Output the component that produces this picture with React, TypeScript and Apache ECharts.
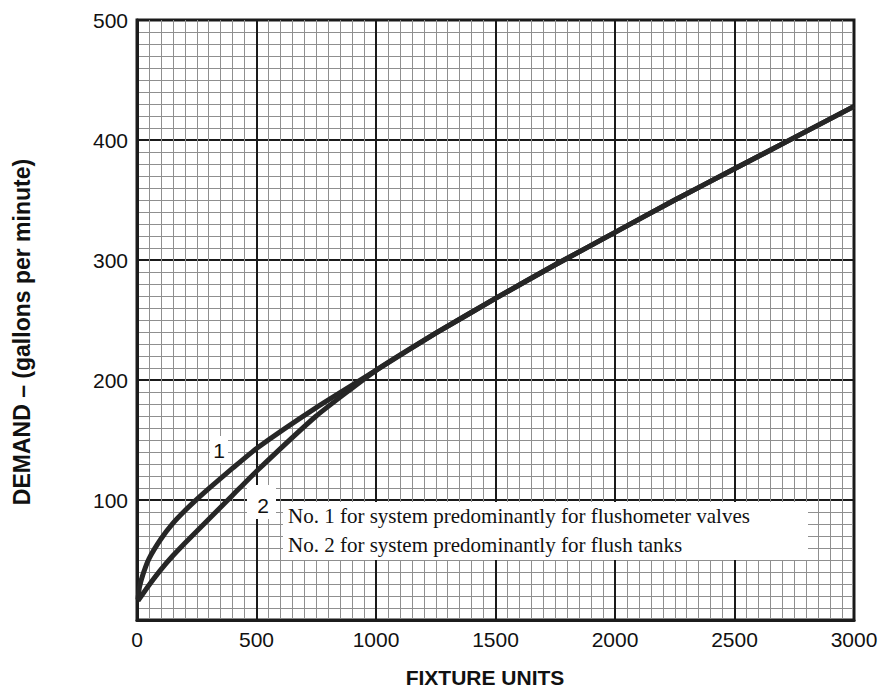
import React, { useEffect, useRef } from "react";
import * as echarts from "echarts";

// Curve 1: system predominantly for flushometer valves
const fixtureUnits1 = [4, 10, 25, 50, 100, 150, 200, 250, 300, 400, 500, 750, 1000, 1250, 1500, 1750, 2000, 2250, 2500, 2750, 3000];
const demand1 = [17, 27, 38, 51, 67.5, 80.5, 91, 100.5, 109.5, 126.5, 143, 177, 208, 239, 268, 296, 323, 350, 376, 402, 428];

// Curve 2: system predominantly for flush tanks
const fixtureUnits2 = [4, 50, 100, 150, 200, 250, 300, 400, 500, 750, 1000, 1250, 1500, 1750, 2000, 2250, 2500, 2750, 3000];
const demand2 = [16, 29, 42, 53.5, 64, 74, 84, 104, 124, 170, 208, 239, 268, 296, 323, 350, 376, 402, 428];

const xTickValues = [0, 500, 1000, 1500, 2000, 2500, 3000];
const xTickLabels = ["0", "500", "1000", "1500", "2000", "2500", "3000"];
const yTickValues = [0, 100, 200, 300, 400, 500];
const yTickLabels = ["", "100", "200", "300", "400", "500"];

const legendLines = [
  "No. 1 for system predominantly for flushometer valves",
  "No. 2 for system predominantly for flush tanks",
];
const curveLabels = ["1", "2"];

const SANS = "'Liberation Sans', Arial, Helvetica, sans-serif";
const SERIF = "'Liberation Serif', 'Times New Roman', serif";

export default function App() {
  const ref = useRef<HTMLDivElement>(null);

  useEffect(() => {
    if (!ref.current) return;
    const chart = echarts.init(ref.current, undefined, { renderer: "svg" });

    const pairs = (xs: number[], ys: number[]) => xs.map((x, i) => [x, ys[i]]);
    const lineColor = "#262626";

    const txt = (text: string, x: number, y: number, font: string, align = "center", extra: any = {}) => ({
      type: "text",
      x,
      y,
      z: 101,
      ...extra,
      style: {
        text,
        font,
        fill: "#111",
        textAlign: align,
        align,
        textVerticalAlign: "middle",
        verticalAlign: "middle",
      },
    });

    chart.setOption({
      animation: false,
      backgroundColor: "#ffffff",
      grid: {
        left: 137,
        right: 28,
        top: 20,
        bottom: 69,
        show: true,
        borderColor: "#1c1c1c",
        borderWidth: 3,
        backgroundColor: "#ffffff",
      },
      xAxis: {
        type: "value",
        min: 0,
        max: 3000,
        interval: 500,
        axisLine: { show: true, lineStyle: { color: "#1c1c1c", width: 3 } },
        axisTick: { show: false },
        axisLabel: {
          margin: 9,
          fontSize: 21,
          fontFamily: SANS,
          color: "#111",
          formatter: (v: number) => {
            const i = xTickValues.indexOf(v);
            return i >= 0 ? xTickLabels[i] : "";
          },
        },
        splitLine: { show: true, lineStyle: { color: "#1a1a1a", width: 2 } },
        minorTick: { show: false, splitNumber: 10 },
        minorSplitLine: { show: true, lineStyle: { color: "#8f8f8f", width: 1 } },
      },
      yAxis: {
        type: "value",
        min: 0,
        max: 500,
        interval: 100,
        axisLine: { show: true, lineStyle: { color: "#1c1c1c", width: 3 } },
        axisTick: { show: false },
        axisLabel: {
          margin: 9,
          fontSize: 21,
          fontFamily: SANS,
          color: "#111",
          formatter: (v: number) => {
            const i = yTickValues.indexOf(v);
            return i >= 0 ? yTickLabels[i] : "";
          },
        },
        splitLine: { show: true, lineStyle: { color: "#1a1a1a", width: 2 } },
        minorTick: { show: false, splitNumber: 10 },
        minorSplitLine: { show: true, lineStyle: { color: "#8f8f8f", width: 1 } },
      },
      series: [
        {
          type: "line",
          name: "1",
          data: pairs(fixtureUnits1, demand1),
          symbol: "none",
          smooth: 0.15,
          lineStyle: { color: lineColor, width: 5 },
          z: 5,
        },
        {
          type: "line",
          name: "2",
          data: pairs(fixtureUnits2, demand2),
          symbol: "none",
          smooth: 0.15,
          lineStyle: { color: lineColor, width: 5 },
          z: 5,
        },
      ],
      graphic: [
        { type: "rect", z: 100, shape: { x: 283, y: 502, width: 525, height: 58 }, style: { fill: "#ffffff" } },
        txt(legendLines[0], 288, 516, `21px ${SERIF}`, "left"),
        txt(legendLines[1], 288, 545, `21px ${SERIF}`, "left"),
        { type: "rect", z: 100, shape: { x: 210, y: 436, width: 18, height: 27 }, style: { fill: "#ffffff" } },
        txt(curveLabels[0], 219, 450, `21px ${SANS}`),
        { type: "rect", z: 100, shape: { x: 247, y: 485, width: 29, height: 34 }, style: { fill: "#ffffff" } },
        txt(curveLabels[1], 263, 505, `21px ${SANS}`),
        txt("FIXTURE UNITS", 485, 677, `bold 21px ${SANS}`),
        txt("DEMAND – (gallons per minute)", 22, 332, `bold 23px ${SANS}`, "center", { rotation: Math.PI / 2 }),
      ],
    });

    return () => chart.dispose();
  }, []);

  return (
    <div
      ref={ref}
      style={{ position: "absolute", left: 0, top: 0, width: 882, height: 689, background: "#fff" }}
    />
  );
}
